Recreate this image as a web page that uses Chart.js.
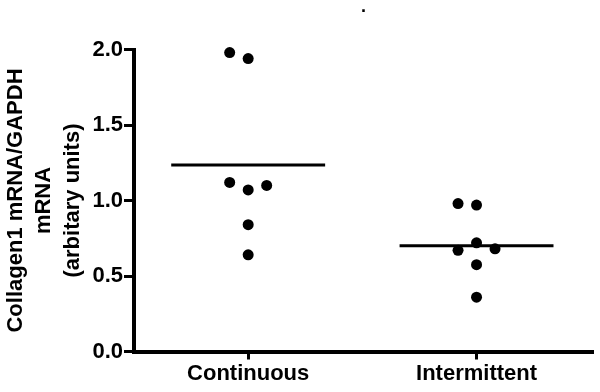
<!DOCTYPE html>
<html>
<head>
<meta charset="utf-8">
<script src="https://cdn.jsdelivr.net/npm/chart.js@4/dist/chart.umd.min.js"></script>
<style>
  html, body { margin: 0; padding: 0; background: #fff; }
  #wrap { width: 600px; height: 392px; }
</style>
</head>
<body>
<div id="wrap"><canvas id="c" width="600" height="392"></canvas></div>
<script>
// ---- data ----
const categories = ['Continuous', 'Intermittent'];
const continuousValues = [1.98, 1.94, 1.12, 1.07, 1.10, 0.84, 0.64];
const continuousColumn = [-1, 0, -1, 0, 1, 0, 0];
const intermittentValues = [0.98, 0.97, 0.72, 0.67, 0.68, 0.575, 0.36];
const intermittentColumn = [-1, 0, 0, -1, 1, 0, 0];
const groupMeans = [1.235, 0.70];
const yTicks = [0, 0.5, 1.0, 1.5, 2.0];
const yTitle = ['Collagen1 mRNA/GAPDH', 'mRNA', '(arbitary units)'];

const COL_STEP = 0.081;   // horizontal spacing between dot columns
const MEAN_HALF = 0.337;  // half width of the mean line

function dots(values, cols, g) {
  return values.map((v, i) => ({ x: g + cols[i] * COL_STEP, y: v }));
}
function meanLine(g) {
  return [{ x: g - MEAN_HALF, y: groupMeans[g] }, { x: g + MEAN_HALF, y: groupMeans[g] }];
}

const FONT = 'Liberation Sans, Arial, sans-serif';

new Chart(document.getElementById('c'), {
  type: 'scatter',
  data: {
    datasets: [
      { data: dots(continuousValues, continuousColumn, 0), backgroundColor: '#000', borderWidth: 0, pointRadius: 5.5, clip: false },
      { data: dots(intermittentValues, intermittentColumn, 1), backgroundColor: '#000', borderWidth: 0, pointRadius: 5.5, clip: false },
      { type: 'line', data: meanLine(0), borderColor: '#000', borderWidth: 3, pointRadius: 0, fill: false, clip: false },
      { type: 'line', data: meanLine(1), borderColor: '#000', borderWidth: 3, pointRadius: 0, fill: false, clip: false }
    ]
  },
  options: {
    responsive: false,
    animation: false,
    devicePixelRatio: 1,
    layout: { padding: { left: 0, right: 7, top: 0, bottom: 0 } },
    plugins: {
      legend: { display: false },
      tooltip: { enabled: false },
      title: {
        display: true,
        text: '.',
        fullSize: false,
        color: '#000',
        font: { family: FONT, size: 18, weight: 'bold', lineHeight: 0.8 },
        padding: { top: 0, bottom: 35.1 }
      }
    },
    scales: {
      x: {
        type: 'linear',
        min: -0.5,
        max: 1.51,
        afterBuildTicks: (s) => { s.ticks = categories.map((_, i) => ({ value: i })); },
        afterFit: (s) => { s.height = 40.5; },
        ticks: {
          callback: (v) => categories[Math.round(v)],
          color: '#000',
          padding: 1,
          maxRotation: 0,
          autoSkip: false,
          font: { family: FONT, size: 22, weight: 'bold' }
        },
        grid: { drawOnChartArea: false, color: '#000', tickLength: 8, tickWidth: 3 },
        border: { display: true, color: '#000', width: 4 }
      },
      y: {
        min: 0,
        max: 2,
        afterBuildTicks: (s) => { s.ticks = yTicks.map(v => ({ value: v })); },
        afterFit: (s) => { s.width = 134; },
        ticks: {
          callback: (v) => Number(v).toFixed(1),
          color: '#000',
          padding: 1,
          font: { family: FONT, size: 22, weight: 'bold' }
        },
        grid: { drawOnChartArea: false, color: '#000', tickLength: 10, tickWidth: 3 },
        border: { display: true, color: '#000', width: 4 },
        title: {
          display: true,
          text: yTitle,
          color: '#000',
          font: { family: FONT, size: 22, weight: 'bold', lineHeight: 1.3 },
          padding: { top: 1.4, bottom: 0 }
        }
      }
    }
  }
});
</script>
</body>
</html>
